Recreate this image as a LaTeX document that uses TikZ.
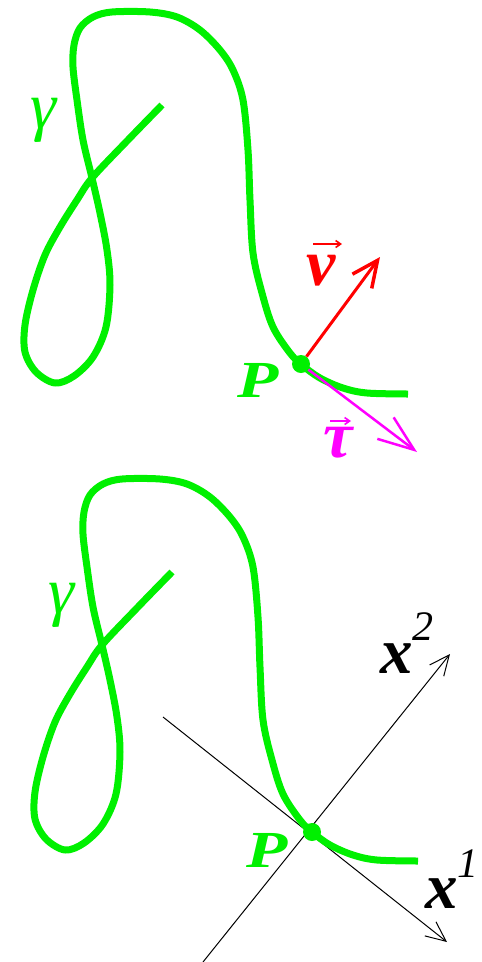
\documentclass[tikz,border=0pt]{standalone}
\usepackage{fontspec}
\usepackage{graphicx}
\setmainfont{Liberation Serif}
\usetikzlibrary{arrows.meta}
\definecolor{lime}{RGB}{0,240,0}
\definecolor{vred}{RGB}{255,0,0}
\definecolor{tmag}{RGB}{255,0,255}
\newcommand{\myfs}[1]{\fontsize{#1}{#1}\selectfont}
\newcommand{\gammacurve}{%
  \draw[curve] plot[smooth, tension=0.55] coordinates {
    (162,105) (127,141) (92,178) (77,200) (60,227) (45,255) (33,290) (25,325)
    (25,352) (36,372) (55,383) (74,376) (93,357) (106,327) (110,285) (107,250)
    (100,213) (92,178) (83,140) (77,100) (73,67) (74,45) (80,28) (93,17)
    (112,12) (150,12) (177,17) (200,30) (220,50) (233,70) (243,100) (248,150)
    (250,200) (253,253) (262,293) (273,327) (290,353) (302,365) (320,378)
    (343,388) (367,393) (408,394)};}
\tikzset{
  curve/.style={lime, line width=7pt, line join=round},
  pdot/.style={circle, fill=lime, inner sep=0pt, minimum size=18pt},
  lbl/.style={inner sep=0pt, anchor=base},
  vvec/.style={vred, line width=3pt, -{Straight Barb[length=26pt,width=24pt,line width=3.5pt]}},
  tvec/.style={tmag, line width=2.5pt, -{Straight Barb[length=36pt,width=27pt,line width=2.5pt]}},
  accent/.style={line width=1.6pt, -{Straight Barb[length=5pt,width=7pt,line width=1.6pt]}},
  axis/.style={black, line width=1pt, -{Straight Barb[length=20pt,width=18pt,line width=1pt]}},
}
\begin{document}
\begin{tikzpicture}[x=1pt,y=-1pt]
\useasboundingbox (0,0) rectangle (482,962);
% ---------- top figure ----------
\gammacurve
\node[pdot] (P1) at (301,364) {};
\coordinate (vtip) at (380,257);
\coordinate (ttip) at (417,452);
\draw[vvec] (P1) -- (vtip);
\draw[tvec] (P1) -- (ttip);
\node[lbl, text=lime] (g1) at (44,128) {\myfs{66}\itshape γ};
\node[lbl, text=lime] (P1l) at (258,397) {\myfs{52}\bfseries\itshape\scalebox{1.3}[1]{P}};
\node[lbl, text=vred] (vl) at (321,285) {\myfs{66}\bfseries\itshape v};
\draw[accent, vred] ([shift={(-8,-41)}]vl.base) -- ([shift={(21,-41)}]vl.base);
\node[lbl, text=tmag] (tl) at (338,457) {\myfs{66}\bfseries\itshape τ};
\draw[accent, tmag] ([shift={(-8,-36)}]tl.base) -- ([shift={(13,-36)}]tl.base);
% ---------- bottom figure ----------
\coordinate (a1s) at (163,717);
\coordinate (a1e) at (447,942);
\coordinate (a2s) at (203,962);
\coordinate (a2e) at (450,654);
\draw[axis] (a1s) -- (a1e);
\draw[axis] (a2s) -- (a2e);
\begin{scope}[shift={(10,467)}]
\gammacurve
\end{scope}
\node[pdot] (P2) at (312,832) {};
\node[lbl, text=lime] (g2) at (62,613) {\myfs{66}\itshape γ};
\node[lbl, text=lime] (P2l) at (267,867) {\myfs{52}\bfseries\itshape\scalebox{1.3}[1]{P}};
\node[lbl, anchor=base west] (x2l) at (380,673) {\myfs{65}\bfseries\itshape x\raisebox{33pt}{\mdseries\myfs{42}2}};
\node[lbl, anchor=base west] (x1l) at (425,908) {\myfs{65}\bfseries\itshape x\raisebox{31pt}{\mdseries\myfs{42}1}};
\end{tikzpicture}
\end{document}
